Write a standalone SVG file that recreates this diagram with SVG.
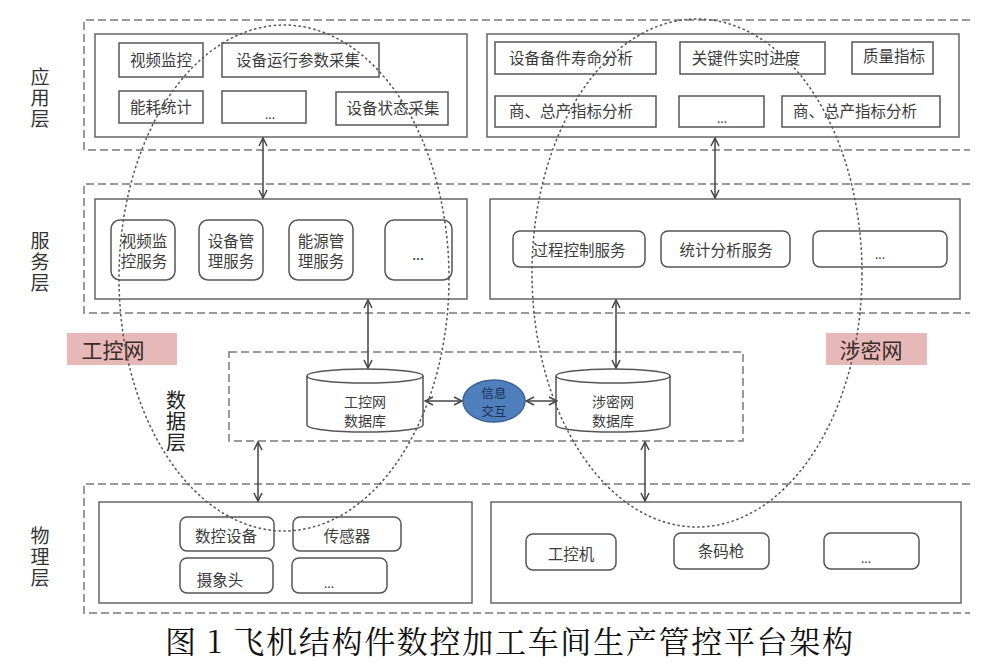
<svg xmlns="http://www.w3.org/2000/svg" width="986" height="669" viewBox="0 0 986 669">
<defs>
<style>
.layer{fill:none;stroke:#7a7a7a;stroke-width:1.5;stroke-dasharray:8 4}
.inner{fill:#fff;stroke:#666;stroke-width:1.5}
.box{fill:#fff;stroke:#555;stroke-width:1.5}
.rbox{fill:#fff;stroke:#555;stroke-width:1.5}
.t{font-family:"Noto Sans CJK SC","Noto Sans",sans-serif;font-size:15.5px;fill:#3c3c3c;text-anchor:middle;dominant-baseline:central}
.lab{font-family:"Noto Sans CJK SC","Noto Sans",sans-serif;font-size:19px;fill:#333;text-anchor:middle;dominant-baseline:central;writing-mode:vertical-rl;letter-spacing:2px}
.net{font-family:"Noto Sans CJK SC","Noto Sans",sans-serif;font-size:21px;fill:#3a2a2a;text-anchor:middle;dominant-baseline:central}
.pink{fill:#e6b9b8;stroke:none}
.dot{fill:none;stroke:#555;stroke-width:1.5;stroke-dasharray:2.5 2.5}
.conn{fill:none;stroke:#444;stroke-width:1.5;marker-start:url(#ah);marker-end:url(#ah)}
.db{fill:#fff;stroke:#555;stroke-width:1.5}
.dots{font-size:12px;fill:#333}
</style>
<marker id="ah" viewBox="0 0 10 10" refX="9" refY="5" markerWidth="10" markerHeight="10" markerUnits="userSpaceOnUse" orient="auto-start-reverse">
<path d="M1,1 L9,5 L1,9" fill="none" stroke="#444" stroke-width="1.5"/>
</marker>
</defs>
<rect width="986" height="669" fill="#fff"/>

<!-- layer frames -->
<g id="layer-app">
<path class="layer" d="M970,20 H84 V150 H970"/>
<text class="lab" x="40" y="99">应用层</text>
</g>
<g id="layer-service">
<path class="layer" d="M970,184 H84 V313 H970"/>
<text class="lab" x="40" y="263">服务层</text>
</g>
<g id="layer-physical">
<path class="layer" d="M970,484 H84 V613 H970"/>
<text class="lab" x="40" y="558">物理层</text>
</g>
<g id="layer-data">
<rect class="layer" x="229" y="352" width="514" height="89"/>
<text class="lab" x="176" y="422" style="fill:#222;font-size:20px;letter-spacing:1px">数据层</text>
</g>

<!-- application layer -->
<g id="app-left">
<rect class="inner" x="95" y="34" width="372" height="103"/>
<g id="app-video"><rect class="box" x="119" y="43" width="84" height="34"/><text class="t" x="161" y="59">视频监控</text></g>
<g id="app-param"><rect class="box" x="222" y="43" width="157" height="34"/><text class="t" x="298" y="59">设备运行参数采集</text></g>
<g id="app-energy"><rect class="box" x="119" y="91" width="84" height="32"/><text class="t" x="161" y="106">能耗统计</text></g>
<g id="app-more1"><rect class="box" x="222" y="91" width="84" height="32"/><text class="t dots" x="270" y="113">...</text></g>
<g id="app-state"><rect class="box" x="336" y="92" width="112" height="33"/><text class="t" x="393" y="107">设备状态采集</text></g>
</g>
<g id="app-right">
<rect class="inner" x="487" y="34" width="472" height="103"/>
<g id="app-life"><rect class="box" x="495" y="42" width="161" height="32"/><text class="t" x="571" y="57">设备备件寿命分析</text></g>
<g id="app-progress"><rect class="box" x="680" y="42" width="145" height="32"/><text class="t" x="746" y="57">关键件实时进度</text></g>
<g id="app-quality"><rect class="box" x="852" y="42" width="81" height="32"/><text class="t" x="894" y="55">质量指标</text></g>
<g id="app-index1"><rect class="box" x="495" y="96" width="161" height="31"/><text class="t" x="571" y="110">商、总产指标分析</text></g>
<g id="app-more2"><rect class="box" x="679" y="96" width="85" height="31"/><text class="t dots" x="722" y="117">...</text></g>
<g id="app-index2"><rect class="box" x="782" y="96" width="158" height="31"/><text class="t" x="855" y="110">商、总产指标分析</text></g>
</g>

<!-- service layer -->
<g id="svc-left">
<rect class="inner" x="95" y="199" width="372" height="100"/>
<g id="svc-video"><rect class="rbox" x="111" y="220" width="64" height="60" rx="9"/><text class="t" x="144" y="240">视频监<tspan x="144" dy="20">控服务</tspan></text></g>
<g id="svc-device"><rect class="rbox" x="199" y="220" width="64" height="60" rx="9"/><text class="t" x="231" y="240">设备管<tspan x="231" dy="20">理服务</tspan></text></g>
<g id="svc-energy"><rect class="rbox" x="289" y="220" width="64" height="60" rx="9"/><text class="t" x="321" y="240">能源管<tspan x="321" dy="20">理服务</tspan></text></g>
<g id="svc-more1"><rect class="rbox" x="385" y="220" width="67" height="60" rx="9"/><text class="t dots" x="418" y="254" style="font-size:14px">...</text></g>
</g>
<g id="svc-right">
<rect class="inner" x="490" y="199" width="470" height="100"/>
<g id="svc-process"><rect class="rbox" x="513" y="231" width="132" height="36" rx="7"/><text class="t" x="579" y="249">过程控制服务</text></g>
<g id="svc-stat"><rect class="rbox" x="661" y="231" width="129" height="36" rx="7"/><text class="t" x="726" y="249">统计分析服务</text></g>
<g id="svc-more2"><rect class="rbox" x="813" y="231" width="134" height="36" rx="7"/><text class="t dots" x="880" y="253">...</text></g>
</g>

<!-- network labels -->
<g id="net-industrial"><rect class="pink" x="67" y="333" width="110" height="32"/><text class="net" x="113" y="349">工控网</text></g>
<g id="net-secret"><rect class="pink" x="826" y="333" width="101" height="32"/><text class="net" x="871" y="349">涉密网</text></g>

<!-- data layer -->
<g id="db-industrial">
<path class="db" d="M307,376 A58,7 0 0 1 423,376 V425 A58,7 0 0 1 307,425 Z"/>
<path class="db" d="M307,376 A58,7 0 0 0 423,376" style="fill:none"/>
<text class="t" x="365" y="401" style="font-size:14px">工控网<tspan x="365" dy="18.5">数据库</tspan></text>
</g>
<g id="info-exchange">
<ellipse cx="494" cy="401" rx="31" ry="21" fill="#4f7fbd" stroke="#3b6396" stroke-width="1.5"/>
<text class="t" x="494" y="392" style="font-size:12.5px;fill:#1d3152">信息<tspan x="494" dy="18">交互</tspan></text>
</g>
<g id="db-secret">
<path class="db" d="M556,376 A57,7 0 0 1 670,376 V425 A57,7 0 0 1 556,425 Z"/>
<path class="db" d="M556,376 A57,7 0 0 0 670,376" style="fill:none"/>
<text class="t" x="613" y="401" style="font-size:14px">涉密网<tspan x="613" dy="18.5">数据库</tspan></text>
</g>

<!-- physical layer -->
<g id="phy-left">
<rect class="inner" x="99" y="502" width="373" height="101"/>
<g id="phy-cnc"><rect class="rbox" x="180" y="517" width="94" height="34" rx="7"/><text class="t" x="226" y="535">数控设备</text></g>
<g id="phy-sensor"><rect class="rbox" x="293" y="517" width="108" height="34" rx="7"/><text class="t" x="347" y="535">传感器</text></g>
<g id="phy-camera"><rect class="rbox" x="180" y="558" width="93" height="35" rx="7"/><text class="t" x="220" y="579">摄象头</text></g>
<g id="phy-more1"><rect class="rbox" x="292" y="558" width="95" height="35" rx="7"/><text class="t dots" x="329" y="582">...</text></g>
</g>
<g id="phy-right">
<rect class="inner" x="491" y="502" width="470" height="101"/>
<g id="phy-ipc"><rect class="rbox" x="526" y="534" width="90" height="36" rx="7"/><text class="t" x="571" y="553">工控机</text></g>
<g id="phy-barcode"><rect class="rbox" x="674" y="533" width="95" height="36" rx="7"/><text class="t" x="721" y="550">条码枪</text></g>
<g id="phy-more2"><rect class="rbox" x="824" y="533" width="95" height="36" rx="7"/><text class="t dots" x="866" y="557">...</text></g>
</g>

<!-- connectors -->
<g id="connectors">
<line class="conn" x1="263" y1="138" x2="263" y2="198"/>
<line class="conn" x1="715" y1="138" x2="715" y2="198"/>
<line class="conn" x1="368" y1="300" x2="368" y2="368"/>
<line class="conn" x1="616" y1="300" x2="616" y2="368"/>
<line class="conn" x1="258" y1="442" x2="258" y2="501"/>
<line class="conn" x1="645" y1="442" x2="645" y2="501"/>
<line class="conn" x1="425" y1="401" x2="462" y2="401"/>
<line class="conn" x1="526" y1="401" x2="557" y2="401"/>
</g>

<!-- network domain ellipses -->
<g id="domains">
<ellipse class="dot" cx="284" cy="278" rx="165" ry="253"/>
<ellipse class="dot" cx="697" cy="273" rx="165" ry="254"/>
</g>

<!-- caption -->
<text id="caption" x="165" y="653" textLength="688" lengthAdjust="spacing" style="font-family:'Noto Serif CJK SC','Liberation Serif','Noto Sans CJK SC',serif;font-size:31px;fill:#111">图 1 飞机结构件数控加工车间生产管控平台架构</text>
</svg>
